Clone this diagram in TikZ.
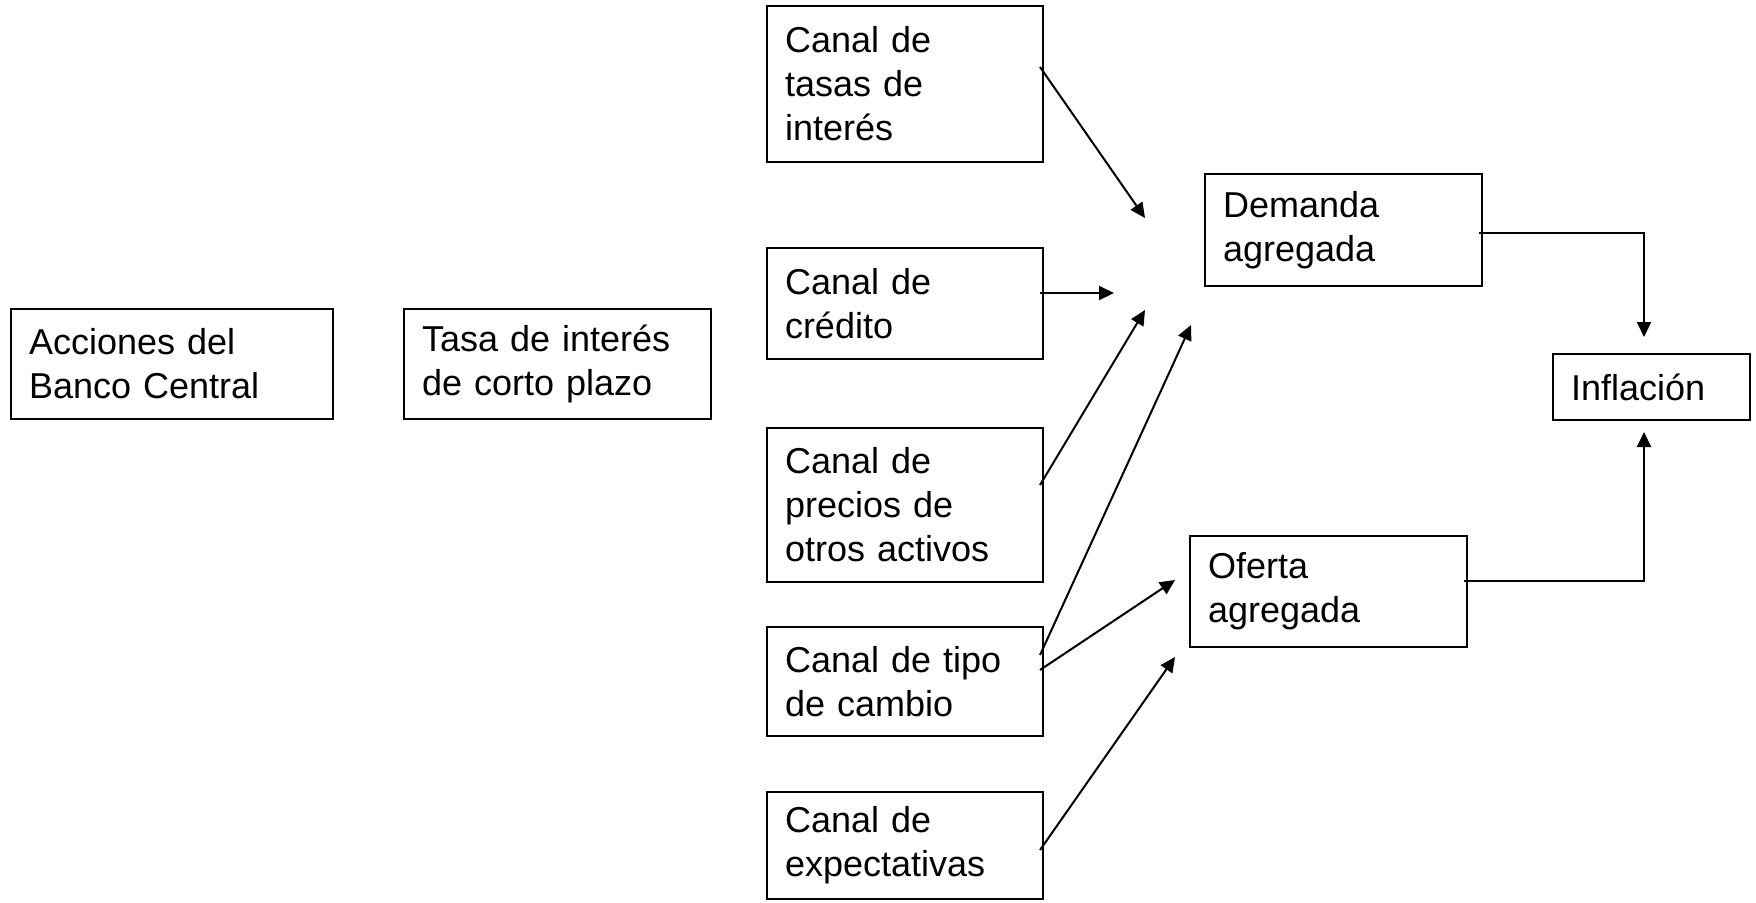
\documentclass[tikz,border=0pt]{standalone}
\usepackage{fontspec}
\setmainfont{Liberation Sans}
\usetikzlibrary{arrows.meta}
\begin{document}
\begin{tikzpicture}[x=0.5pt,y=-0.5pt,
  box/.style={draw, line width=1pt, inner xsep=9pt, inner ysep=0pt, align=left,
    font=\fontsize{18pt}{22pt}\selectfont},
  canal/.style={box, text width=120pt, minimum width=138pt},
  arr/.style={line width=1pt, -{Triangle[length=7.5pt,width=7pt]}}]
\useasboundingbox (0,0) rectangle (1756,902);
\node[box, text width=143pt, minimum width=161pt, minimum height=55pt] (acc) at (172,364) {Acciones del\\Banco Central};
\node[box, text width=135.5pt, minimum width=153.5pt, minimum height=55pt] (tasa) at (557.5,364) {Tasa de interés\\de corto plazo};
\node[canal, minimum height=78pt] (ctas) at (905,84) {Canal de\\tasas de\\interés};
\node[canal, minimum height=55.5pt] (ccre) at (905,303.5) {Canal de\\crédito};
\node[canal, minimum height=77pt] (cpre) at (905,505) {Canal de\\precios de\\otros activos};
\node[canal, minimum height=54.5pt] (ctip) at (905,681.5) {Canal de tipo\\de cambio};
\node[canal, minimum height=53.5pt] (cexp) at (905,845.5) {Canal de\\expectativas};
\node[box, text width=120.5pt, minimum width=138.5pt, minimum height=56pt] (dem) at (1343.5,230) {Demanda\\agregada};
\node[box, text width=120.5pt, minimum width=138.5pt, minimum height=55.5pt] (ofe) at (1328.5,591.5) {Oferta\\agregada};
\node[box, text width=80.5pt, minimum width=98.5pt, minimum height=33pt] (inf) at (1651.5,387) {Inflación};
\coordinate (e1) at (1145,218);
\coordinate (e2) at (1114,293);
\coordinate (e3) at (1145,310);
\coordinate (e4) at (1191,325);
\coordinate (e5) at (1175,580);
\coordinate (e6) at (1175,657);
\draw[arr] ([xshift=-2pt,yshift=8.5pt]ctas.east) -- (e1);
\draw[arr] ([xshift=-2pt,yshift=5.25pt]ccre.east) -- (e2);
\draw[arr] ([xshift=-2pt,yshift=10pt]cpre.east) -- (e3);
\draw[arr] ([xshift=-2pt,yshift=13.25pt]ctip.east) -- (e4);
\draw[arr] ([xshift=-2pt,yshift=5.75pt]ctip.east) -- (e5);
\draw[arr] ([xshift=-2pt,yshift=-2.25pt]cexp.east) -- (e6);
\draw[arr] ([xshift=-2pt,yshift=-1.5pt]dem.east) -| ([xshift=-3.75pt,yshift=8pt]inf.north);
\draw[arr] ([xshift=-2pt,yshift=5.25pt]ofe.east) -| ([xshift=-3.75pt,yshift=-5.5pt]inf.south);
\end{tikzpicture}
\end{document}
